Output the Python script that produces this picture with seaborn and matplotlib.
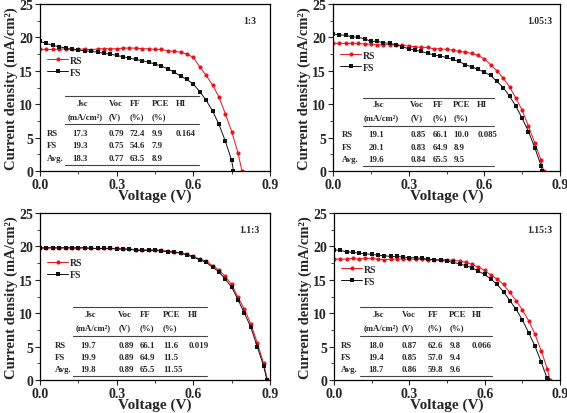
import matplotlib
matplotlib.use("Agg")
import matplotlib.pyplot as plt
import seaborn as sns
import pandas as pd

sns.set_theme(style="ticks")
plt.rcParams['font.family'] = ['Liberation Serif', 'DejaVu Serif']
plt.rcParams['font.weight'] = 'bold'
plt.rcParams['axes.labelweight'] = 'bold'

# --- data ---
ratios = ["1:3", "1.05:3", "1.1:3", "1.15:3"]

step = 0.025

v_rs_13 = [i * step for i in range(32)] + [0.79]
j_rs_13 = [18.2, 18.2, 18.2, 18.2, 18.3, 18.2, 18.2, 18.3, 18.1, 18.3, 18.3, 18.3,
           18.3, 18.4, 18.4, 18.4, 18.3, 18.3, 18.2, 18.2, 18.0, 17.9, 17.8, 17.5,
           17.0, 15.6, 14.3, 12.9, 11.1, 8.6, 5.9, 2.7, 0.0]
v_fs_13 = [i * step for i in range(31)] + [0.757]
j_fs_13 = [19.4, 19.1, 18.8, 18.6, 18.4, 18.2, 18.1, 18.0, 17.9, 17.8, 17.6, 17.5,
           17.3, 17.1, 16.9, 16.7, 16.5, 16.3, 16.0, 15.7, 15.3, 14.8, 14.2, 13.7,
           13.0, 11.9, 10.6, 9.0, 7.0, 4.5, 1.6, 0.0]

v_rs_105 = [i * step for i in range(34)] + [0.835]
j_rs_105 = [19.1, 19.1, 19.1, 19.1, 19.1, 19.0, 19.0, 18.9, 18.9, 18.9, 18.9, 18.8,
            18.7, 18.6, 18.5, 18.5, 18.3, 18.3, 18.2, 18.1, 17.9, 17.8, 17.6, 17.3,
            16.8, 15.9, 15.0, 13.9, 12.6, 10.9, 9.1, 6.7, 4.2, 1.6, 0.0]
v_fs_105 = [i * step for i in range(34)] + [0.83]
j_fs_105 = [20.5, 20.4, 20.3, 20.1, 20.0, 19.8, 19.4, 19.4, 19.2, 19.1, 18.9, 18.6,
            18.3, 18.1, 17.9, 17.6, 17.4, 17.2, 17.0, 16.7, 16.4, 15.9, 15.6, 15.2,
            14.8, 14.3, 13.4, 12.5, 11.2, 9.7, 7.9, 5.9, 3.5, 0.8, 0.0]

v_rs_11 = [i * step for i in range(36)] + [0.89]
j_rs_11 = [19.7, 19.7, 19.8, 19.7, 19.8, 19.7, 19.7, 19.8, 19.7, 19.7, 19.7, 19.7,
           19.7, 19.6, 19.6, 19.5, 19.5, 19.5, 19.5, 19.4, 19.3, 19.2, 19.0, 18.8,
           18.5, 18.1, 17.8, 17.1, 16.5, 15.5, 14.3, 12.4, 10.6, 8.4, 5.6, 2.5, 0.0]
v_fs_11 = [i * step for i in range(36)] + [0.888]
j_fs_11 = [19.8, 19.8, 19.8, 19.8, 19.8, 19.8, 19.8, 19.8, 19.7, 19.7, 19.7, 19.7,
           19.6, 19.6, 19.6, 19.4, 19.4, 19.4, 19.4, 19.3, 19.2, 19.1, 19.0, 18.7,
           18.4, 18.0, 17.6, 16.9, 16.2, 15.1, 13.9, 12.0, 10.0, 7.9, 5.0, 2.1, 0.0]

v_rs_115 = [i * step for i in range(35)] + [0.86]
j_rs_115 = [18.1, 18.1, 18.1, 18.2, 18.1, 18.2, 18.2, 18.1, 18.0, 18.1, 18.1, 18.1,
            18.1, 18.1, 18.1, 18.0, 18.0, 18.0, 18.0, 17.9, 17.8, 17.6, 17.3, 16.9,
            16.4, 15.7, 15.1, 14.3, 13.1, 11.9, 10.5, 8.9, 6.9, 4.4, 1.6, 0.0]
v_fs_115 = [i * step for i in range(34)] + [0.848, 0.852]
j_fs_115 = [19.5, 19.4, 19.2, 19.1, 19.0, 18.9, 18.8, 18.7, 18.6, 18.5, 18.5, 18.4,
            18.3, 18.3, 18.2, 18.1, 18.0, 17.9, 17.8, 17.6, 17.4, 17.1, 16.8, 16.3,
            15.8, 15.1, 14.3, 13.2, 11.9, 10.6, 9.0, 7.1, 5.1, 2.7, 0.3, 0.0]

curves = [
    (v_rs_13, j_rs_13, v_fs_13, j_fs_13),
    (v_rs_105, j_rs_105, v_fs_105, j_fs_105),
    (v_rs_11, j_rs_11, v_fs_11, j_fs_11),
    (v_rs_115, j_rs_115, v_fs_115, j_fs_115),
]

# table values: Jsc, Voc, FF, PCE, HI
table_rows = ["RS", "FS", "Avg."]
table_header = ["Jsc", "Voc", "FF", "PCE", "HI"]
table_units = ["(mA/cm²)", "(V)", "(%)", "(%)", ""]
tables = [
    [["17.3", "0.79", "72.4", "9.9", "0.164"],
     ["19.3", "0.75", "54.6", "7.9", ""],
     ["18.3", "0.77", "63.5", "8.9", ""]],
    [["19.1", "0.85", "66.1", "10.0", "0.085"],
     ["20.1", "0.83", "64.9", "8.9", ""],
     ["19.6", "0.84", "65.5", "9.5", ""]],
    [["19.7", "0.89", "66.1", "11.6", "0.019"],
     ["19.9", "0.89", "64.9", "11.5", ""],
     ["19.8", "0.89", "65.5", "11.55", ""]],
    [["18.0", "0.87", "62.6", "9.8", "0.066"],
     ["19.4", "0.85", "57.0", "9.4", ""],
     ["18.7", "0.86", "59.8", "9.6", ""]],
]

# layout (figure px -> fractions)
W, H = 567, 414
axes_px = [(40, 5, 230, 167), (333, 5, 227, 167), (40, 214, 230, 167), (334, 214, 226, 167)]
# table geometry in axes fraction: row-label x, line x0, x1, column x's, top/mid/bottom line y
table_geo = [
    (0.03, 0.11, 0.69, [0.14, 0.30, 0.39, 0.485, 0.59], 0.45, 0.28, 0.035),
    (0.04, 0.13, 0.71, [0.155, 0.34, 0.44, 0.53, 0.635], 0.44, 0.27, 0.03),
    (0.065, 0.145, 0.725, [0.175, 0.34, 0.435, 0.535, 0.645], 0.435, 0.262, 0.024),
    (0.03, 0.115, 0.70, [0.15, 0.30, 0.415, 0.51, 0.61], 0.435, 0.262, 0.024),
]
legend_y = [0.73, 0.76, 0.77, 0.73]

RED = "#e8141c"
BLACK = "#111111"

fig = plt.figure(figsize=(W / 100, H / 100), dpi=100)

for k in range(4):
    x, y, w, h = axes_px[k]
    ax = fig.add_axes([x / W, 1 - (y + h) / H, w / W, h / H])
    v_rs, j_rs, v_fs, j_fs = curves[k]
    df_rs = pd.DataFrame({"V": v_rs, "J": j_rs})
    df_fs = pd.DataFrame({"V": v_fs, "J": j_fs})
    sns.lineplot(data=df_rs, x="V", y="J", ax=ax, color=RED, marker="o", markersize=3,
                 markeredgewidth=0, linewidth=0.7, sort=False, label="RS")
    sns.lineplot(data=df_fs, x="V", y="J", ax=ax, color=BLACK, marker="s", markersize=2.8,
                 markeredgewidth=0, linewidth=0.7, sort=False, label="FS")

    ax.set_xlim(0, 0.9)
    ax.set_ylim(0, 25)
    ax.set_xticks([0.0, 0.3, 0.6, 0.9])
    ax.set_xticklabels(["0.0", "0.3", "0.6", "0.9"])
    ax.set_yticks([0, 5, 10, 15, 20, 25])
    ax.set_xticks([0.15, 0.45, 0.75], minor=True)
    ax.set_yticks([2.5, 7.5, 12.5, 17.5, 22.5], minor=True)
    ax.tick_params(which="major", direction="out", length=3.5, width=0.8, labelsize=10, pad=1.5)
    ax.tick_params(which="minor", direction="out", length=2, width=0.6)
    for lab in ax.get_xticklabels() + ax.get_yticklabels():
        lab.set_fontweight("bold")
    for s in ax.spines.values():
        s.set_linewidth(0.9)
        s.set_color("black")
    ax.set_xlabel("Voltage (V)", fontsize=11, fontweight="bold", labelpad=-1.5)
    ax.set_ylabel("Current density (mA/cm²)", fontsize=10.5, fontweight="bold", labelpad=1)

    ax.text(0.91, 0.9, ratios[k], transform=ax.transAxes, fontsize=7, fontweight="bold",
            ha="center", va="center")

    ax.legend(loc="upper left", bbox_to_anchor=(0.0, legend_y[k]), frameon=False,
              fontsize=7, handlelength=2.2, handletextpad=0.2, labelspacing=0.3,
              borderaxespad=0.3)

    # embedded parameter table
    rx, lx0, lx1, cols, ytop, ymid, ybot = table_geo[k]
    for yy in (ytop, ymid, ybot):
        ax.plot([lx0, lx1], [yy, yy], transform=ax.transAxes, color="#444444", lw=0.8)
    h1 = ytop - 0.04
    h2 = ytop - 0.12
    for c, (hd, un) in enumerate(zip(table_header, table_units)):
        off = 0.02 if c == 0 else 0.0
        ax.text(cols[c] + off, h1, hd, transform=ax.transAxes, fontsize=6.3, fontweight="bold",
                va="center", ha="left")
        ax.text(cols[c] - (0.02 if c == 0 else 0.0), h2, un, transform=ax.transAxes, fontsize=6.3,
                fontweight="bold", va="center", ha="left")
    row_ys = [ymid - 0.05, ymid - 0.125, ybot + 0.04]
    for r, name in enumerate(table_rows):
        ax.text(rx, row_ys[r], name, transform=ax.transAxes, fontsize=6.3, fontweight="bold",
                va="center", ha="left")
        for c, val in enumerate(tables[k][r]):
            ax.text(cols[c], row_ys[r], val, transform=ax.transAxes, fontsize=6.3,
                    fontweight="bold", va="center", ha="left")

fig.savefig("out.png", dpi=100)
